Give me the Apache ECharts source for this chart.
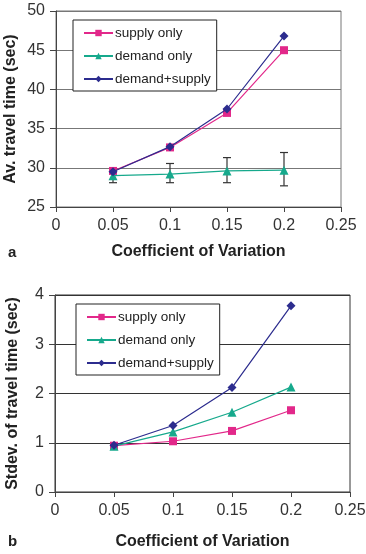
<!DOCTYPE html>
<html>
<head>
<meta charset="utf-8">
<script src="https://cdn.jsdelivr.net/npm/echarts@6/dist/echarts.min.js"></script>
<style>
  html, body { margin: 0; padding: 0; background: #fff; }
  #chart { width: 366px; height: 554px; }
</style>
</head>
<body>
<div id="chart"></div>
<script>
// coefficient of variation (x values)
const cv = [0.05, 0.1, 0.15, 0.2]

// panel a: average travel time (sec)
const avgSupply = [29.6, 32.6, 37.0, 45.0]
const avgDemand = [29.0, 29.2, 29.6, 29.7]
const avgBoth = [29.5, 32.7, 37.5, 46.8]
// error bars of demand only: low / high
const errLow = [28.1, 28.1, 28.1, 27.7]
const errHigh = [29.9, 30.55, 31.3, 31.95]

// panel b: stdev of travel time (sec)
const sdSupply = [0.94, 1.03, 1.24, 1.66]
const sdDemand = [0.93, 1.22, 1.62, 2.13]
const sdBoth = [0.95, 1.35, 2.12, 3.78]

const names = ['supply only', 'demand only', 'demand+supply']
const colors = ['#e2288a', '#16a98c', '#2c2c8e']
const symbols = ['rect', 'triangle', 'diamond']
const symbolSizes = [8, 9, 9]

const FONT = 'Liberation Sans, Arial, sans-serif'

const pair = (vals) => cv.map((x, i) => [x, vals[i]])

function lineSeries(idx, vals, axis) {
  return {
    name: names[idx],
    type: 'line',
    xAxisIndex: axis,
    yAxisIndex: axis,
    data: pair(vals),
    symbol: symbols[idx],
    symbolSize: symbolSizes[idx],
    showAllSymbol: true,
    itemStyle: { color: colors[idx] },
    lineStyle: { color: colors[idx], width: 1.2 },
    animation: false,
    z: 3 + idx
  }
}

function xAxisCfg(grid, nameGap) {
  return {
    type: 'value',
    gridIndex: grid,
    min: 0,
    max: 0.25,
    interval: 0.05,
    name: 'Coefficient of Variation',
    nameLocation: 'middle',
    nameGap: nameGap,
    nameTextStyle: { fontFamily: FONT, fontSize: 16, fontWeight: 'bold', color: '#222' },
    axisLine: { lineStyle: { color: '#444', width: 1 } },
    axisTick: { show: true, length: 5, lineStyle: { color: '#444' } },
    axisLabel: { fontFamily: FONT, fontSize: 16, color: '#333', margin: 11 },
    splitLine: { show: false }
  }
}

function yAxisCfg(grid, min, max, interval, name, gridColor, nameGap) {
  return {
    type: 'value',
    gridIndex: grid,
    min: min,
    max: max,
    interval: interval,
    name: name,
    nameLocation: 'middle',
    nameGap: nameGap,
    nameMoveOverlap: false,
    nameTextStyle: { fontFamily: FONT, fontSize: 16, fontWeight: 'bold', color: '#222' },
    axisLine: { show: true, lineStyle: { color: '#444', width: 1 } },
    axisTick: { show: true, length: 6, lineStyle: { color: '#444' } },
    axisLabel: { fontFamily: FONT, fontSize: 16, color: '#333', margin: 11 },
    splitLine: { show: true, lineStyle: { color: gridColor, width: 1.2 } }
  }
}

function legendCfg(left, top) {
  return {
    orient: 'vertical',
    left: left,
    top: top,
    padding: [6, 6, 5, 10],
    itemWidth: 29,
    itemHeight: 8,
    itemGap: 9,
    backgroundColor: '#fff',
    borderColor: '#222',
    borderWidth: 1,
    borderRadius: 0,
    data: names,
    textStyle: { fontFamily: FONT, fontSize: 13.5, color: '#222', padding: [0, 0, 0, -3] },
    selectedMode: false
  }
}

const chart = echarts.init(document.getElementById('chart'), null, { renderer: 'canvas' })

chart.setOption({
  backgroundColor: '#fff',
  animation: false,
  title: [
    { text: 'a', left: 3, top: 240, textStyle: { fontFamily: FONT, fontSize: 15, fontWeight: 'bold', color: '#222' } },
    { text: 'b', left: 3, top: 529, textStyle: { fontFamily: FONT, fontSize: 15, fontWeight: 'bold', color: '#222' } }
  ],
  grid: [
    { left: 56, right: 25, top: 11, height: 196, outerBoundsMode: 'none', containLabel: false, show: true, borderColor: '#777', borderWidth: 1, backgroundColor: 'transparent' },
    { left: 55, right: 16, top: 295, height: 197, outerBoundsMode: 'none', containLabel: false, show: true, borderColor: '#333', borderWidth: 1, backgroundColor: 'transparent' }
  ],
  legend: [legendCfg(73, 20), legendCfg(76, 304)],
  xAxis: [xAxisCfg(0, 37), xAxisCfg(1, 42)],
  yAxis: [
    yAxisCfg(0, 25, 50, 5, 'Av. travel time (sec)', '#777', 37),
    yAxisCfg(1, 0, 4, 1, 'Stdev. of travel time (sec)', '#333', 34)
  ],
  series: [
    {
      type: 'custom',
      xAxisIndex: 0,
      yAxisIndex: 0,
      data: cv.map((x, i) => [x, errLow[i], errHigh[i]]),
      encode: { x: 0, y: [1, 2] },
      z: 2,
      renderItem: function(params, api) {
        const x = api.value(0)
        const lo = api.coord([x, api.value(1)])
        const hi = api.coord([x, api.value(2)])
        const cap = 4
        const style = { stroke: '#333', lineWidth: 1.2 }
        return {
          type: 'group',
          children: [
            { type: 'line', shape: { x1: lo[0], y1: lo[1], x2: hi[0], y2: hi[1] }, style: style },
            { type: 'line', shape: { x1: lo[0] - cap, y1: lo[1], x2: lo[0] + cap, y2: lo[1] }, style: style },
            { type: 'line', shape: { x1: hi[0] - cap, y1: hi[1], x2: hi[0] + cap, y2: hi[1] }, style: style }
          ]
        }
      }
    },
    lineSeries(0, avgSupply, 0),
    lineSeries(1, avgDemand, 0),
    lineSeries(2, avgBoth, 0),
    lineSeries(0, sdSupply, 1),
    lineSeries(1, sdDemand, 1),
    lineSeries(2, sdBoth, 1)
  ]
})
</script>
</body>
</html>
